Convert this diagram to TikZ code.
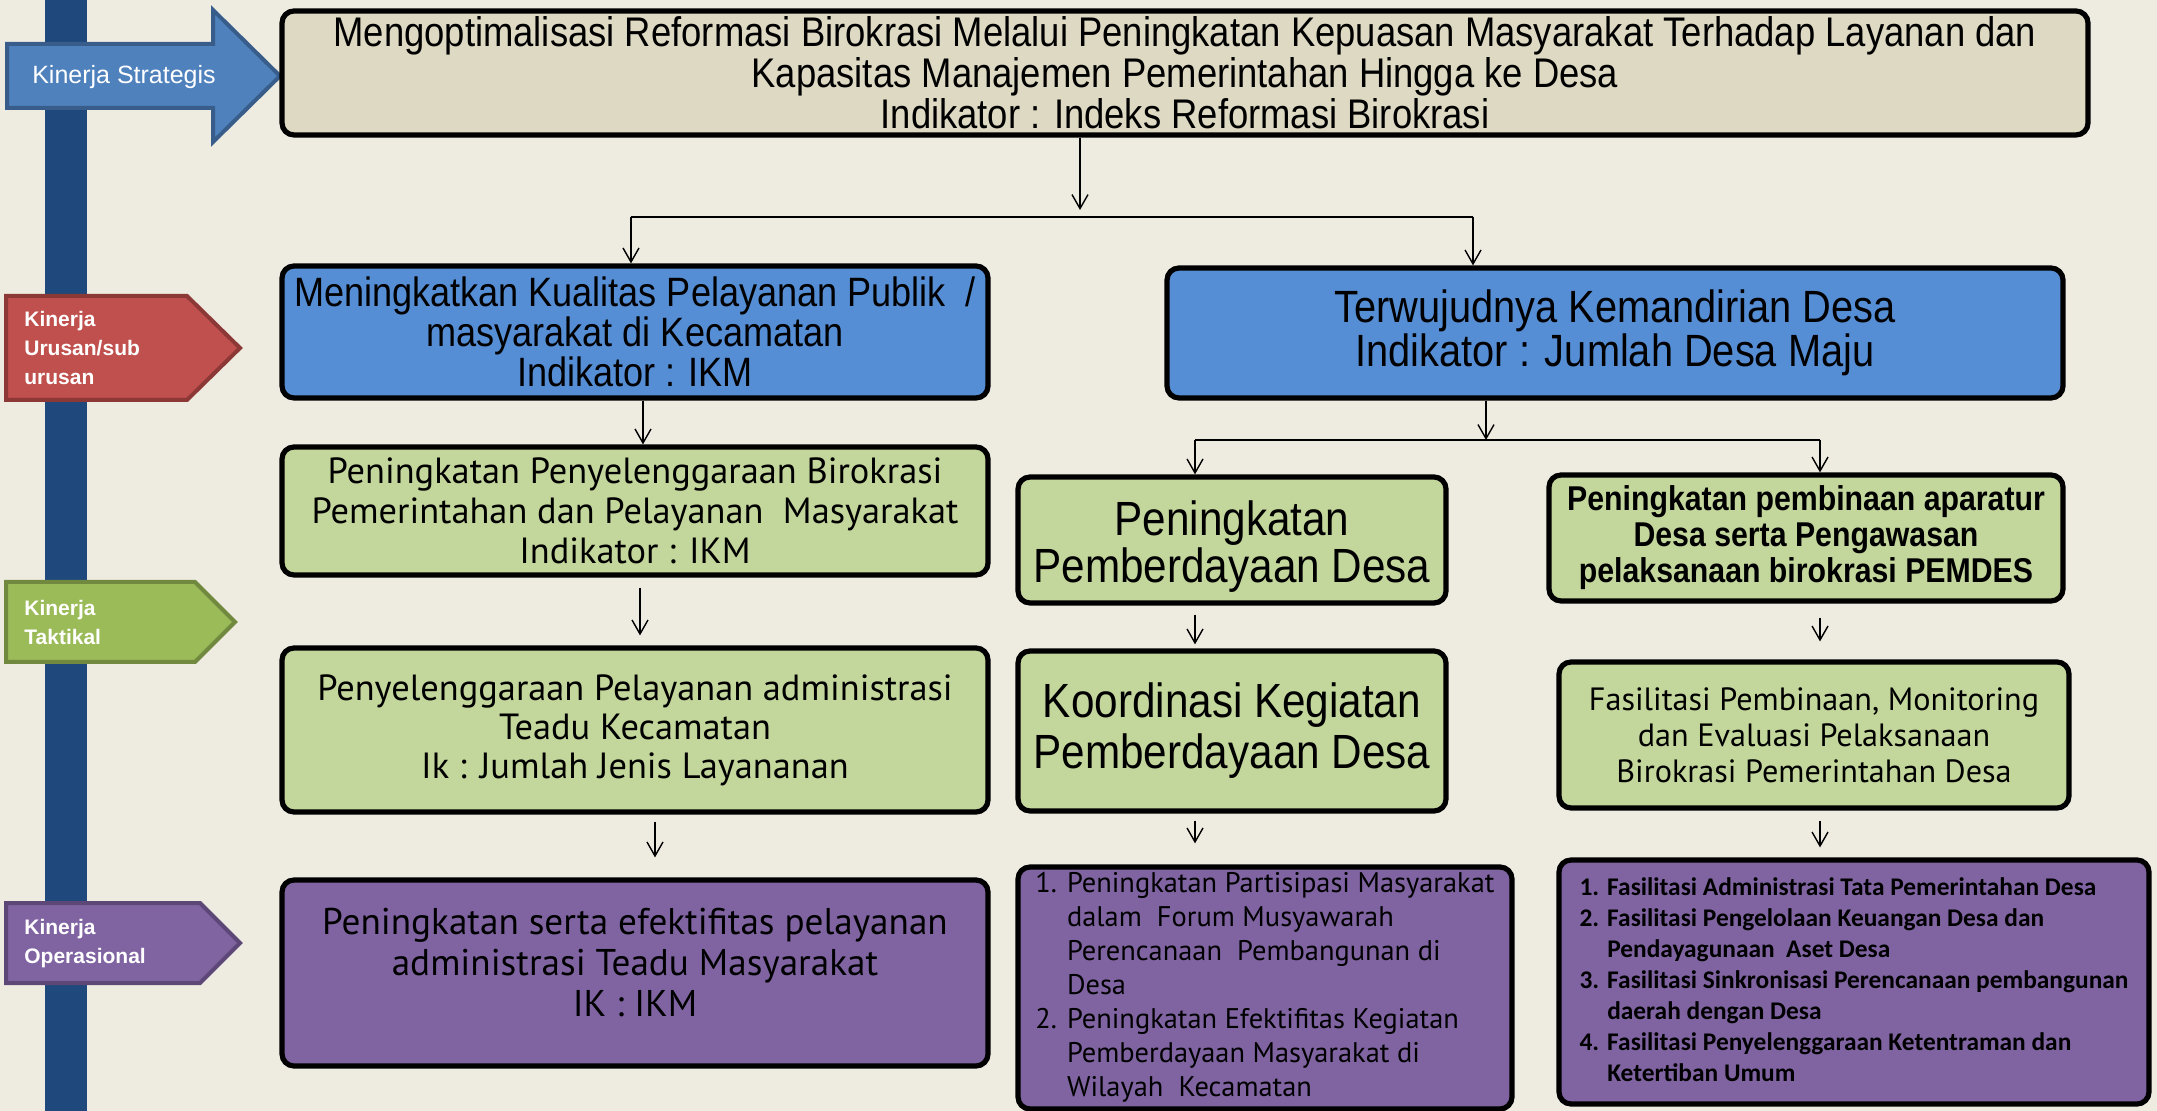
\documentclass[tikz,border=0pt]{standalone}
\usepackage{fontspec}
\setmainfont{Liberation Sans}
\newfontfamily\narrowfont[FakeStretch=0.88]{Liberation Sans}
\newfontfamily\bookfont{PT Sans}
\newfontfamily\calfont{Carlito}
\usetikzlibrary{arrows.meta}
\definecolor{slidebg}{HTML}{EEECE1}
\definecolor{barblue}{HTML}{1F497D}
\definecolor{boxtan}{HTML}{DDD9C3}
\definecolor{boxblue}{HTML}{558ED5}
\definecolor{boxgreen}{HTML}{C3D69B}
\definecolor{boxpurple}{HTML}{8064A2}
\definecolor{stratfill}{HTML}{4F81BD}
\definecolor{stratline}{HTML}{385D8A}
\definecolor{urusfill}{HTML}{C0504D}
\definecolor{urusline}{HTML}{8C3836}
\definecolor{taktfill}{HTML}{9BBB59}
\definecolor{taktline}{HTML}{71893F}
\definecolor{operfill}{HTML}{8064A2}
\definecolor{operline}{HTML}{5C4776}

\begin{document}
\begin{tikzpicture}[x=0.5pt,y=-0.5pt,
    >={Straight Barb[length=7pt,width=8pt]},
    conn/.style={line width=0.7pt},
    box/.style={draw,line width=2.6pt,rounded corners=6pt,align=center,inner sep=1pt},
    lbl/.style={text=white,align=left,anchor=west,inner sep=0pt,
        font=\bfseries\fontsize{10.5}{14.5}\selectfont}]
    \fill[slidebg] (0,0) rectangle (2157,1111);
    \useasboundingbox (0,0) rectangle (2157,1111);
    \fill[barblue] (45,0) rectangle (87,1111);

    % left level markers
    \filldraw[fill=stratfill,draw=stratline,line width=2pt] (7,44) -- (213,44) -- (213,10) -- (280,76) -- (213,142) -- (213,108) -- (7,108) -- cycle;
    \node[lbl,anchor=center,font=\fontsize{12.5}{15}\selectfont] (kstrat) at (124,77) {Kinerja Strategis};
    \filldraw[fill=urusfill,draw=urusline,line width=2pt] (6,296) -- (187,296) -- (240,348) -- (187,400) -- (6,400) -- cycle;
    \node[lbl] (kurus) at (24,348) {Kinerja\\Urusan/sub\\urusan};
    \filldraw[fill=taktfill,draw=taktline,line width=2pt] (6,582) -- (195,582) -- (235,622) -- (195,662) -- (6,662) -- cycle;
    \node[lbl] (ktakt) at (24,622) {Kinerja\\Taktikal};
    \filldraw[fill=operfill,draw=operline,line width=2pt] (6,903) -- (200,903) -- (240,943) -- (200,983) -- (6,983) -- cycle;
    \node[lbl] (koper) at (24,944) {Kinerja\\Operasional};

    % boxes
    \node[box,fill=boxtan,minimum width=903pt,minimum height=62pt,
        font=\narrowfont\fontsize{20.7}{20.5}\selectfont] (top) at (1185,73)
        {Mengoptimalisasi Reformasi Birokrasi Melalui Peningkatan Kepuasan Masyarakat Terhadap Layanan dan\\
         Kapasitas Manajemen Pemerintahan Hingga ke Desa\\ Indikator : Indeks Reformasi Birokrasi};
    \node[box,fill=boxblue,minimum width=353pt,minimum height=66pt,
        font=\narrowfont\fontsize{20.5}{20}\selectfont] (blueL) at (635,332)
        {Meningkatkan Kualitas Pelayanan Publik~~/\\ masyarakat di Kecamatan\\ Indikator : IKM};
    \node[box,fill=boxblue,minimum width=448pt,minimum height=65pt,
        font=\narrowfont\fontsize{22.6}{22}\selectfont] (blueR) at (1615,333)
        {Terwujudnya Kemandirian Desa\\ Indikator : Jumlah Desa Maju};
    \node[box,fill=boxgreen,minimum width=353pt,minimum height=64pt,
        font=\bookfont\fontsize{18.2}{20}\selectfont] (greenL1) at (635,511)
        {Peningkatan Penyelenggaraan Birokrasi\\ Pemerintahan dan Pelayanan~~Masyarakat\\ Indikator : IKM};
    \node[box,fill=boxgreen,minimum width=353pt,minimum height=82pt,
        font=\bookfont\fontsize{18.2}{19.5}\selectfont] (greenL2) at (635,730)
        {Penyelenggaraan Pelayanan administrasi\\ Teadu Kecamatan\\ Ik : Jumlah Jenis Layananan};
    \node[box,fill=boxpurple,minimum width=353pt,minimum height=93pt,text depth=11pt,
        font=\bookfont\fontsize{18.6}{20.5}\selectfont] (purpL) at (635,973)
        {Peningkatan serta efektifitas pelayanan\\ administrasi Teadu Masyarakat\\ IK : IKM};
    \node[box,fill=boxgreen,minimum width=214pt,minimum height=63pt,text height=47.5pt,
        font=\narrowfont\fontsize{24}{22}\selectfont] (greenM1) at (1232,540)
        {Peningkatan\\ Pemberdayaan Desa};
    \node[box,fill=boxgreen,minimum width=214pt,minimum height=80pt,
        font=\narrowfont\fontsize{24}{25.5}\selectfont] (greenM2) at (1232,731)
        {Koordinasi Kegiatan\\ Pemberdayaan Desa};
    \node[box,fill=boxpurple,minimum width=247pt,minimum height=117pt,
        font=\bookfont\fontsize{14.2}{17}\selectfont] (purpM) at (1265,988)
        {\begin{tabular}{@{}l@{\hspace{5pt}}l@{}}
         1. & Peningkatan Partisipasi Masyarakat\\
            & dalam~ Forum Musyawarah\\
            & Perencanaan~ Pembangunan di\\
            & Desa\\
         2. & Peningkatan Efektifitas Kegiatan\\
            & Pemberdayaan Masyarakat di\\
            & Wilayah~ Kecamatan
         \end{tabular}};
    \node[box,fill=boxgreen,minimum width=257pt,minimum height=63pt,
        font=\narrowfont\bfseries\fontsize{17.2}{18}\selectfont] (greenR1) at (1806,538)
        {Peningkatan pembinaan aparatur\\ Desa serta Pengawasan\\ pelaksanaan birokrasi PEMDES};
    \node[box,fill=boxgreen,minimum width=255pt,minimum height=73pt,
        font=\bookfont\fontsize{16.1}{18}\selectfont] (greenR2) at (1814,735)
        {Fasilitasi Pembinaan, Monitoring\\ dan Evaluasi Pelaksanaan\\ Birokrasi Pemerintahan Desa};
    \node[box,fill=boxpurple,minimum width=295pt,minimum height=122pt,
        font=\calfont\bfseries\fontsize{12.7}{15.5}\selectfont] (purpR) at (1854,982)
        {\begin{tabular}{@{}l@{\hspace{4pt}}l@{}}
         1. & Fasilitasi Administrasi Tata Pemerintahan Desa\\
         2. & Fasilitasi Pengelolaan Keuangan Desa dan\\
            & Pendayagunaan~ Aset Desa\\
         3. & Fasilitasi Sinkronisasi Perencanaan pembangunan\\
            & daerah dengan Desa\\
         4. & Fasilitasi Penyelenggaraan Ketentraman dan\\
            & Ketertiban Umum
         \end{tabular}};

    % connectors
    \coordinate (busM) at (1080,210);
    \coordinate (busL) at (631,217);
    \coordinate (busR) at (1473,217);
    \draw[->,conn] (top.south -| busM) -- (busM);
    \draw[conn] (busL) -- (busR);
    \draw[->,conn] (busL) -- (blueL.north -| busL);
    \draw[->,conn] (busR) -- (blueR.north -| busR);
    \draw[->,conn] ([xshift=4pt]blueL.south) -- ([xshift=4pt]greenL1.north);
    \draw[->,conn,shorten <=5pt,shorten >=5pt] ([xshift=2.5pt]greenL1.south) -- ([xshift=2.5pt]greenL2.north);
    \draw[->,conn,shorten <=3.5pt,shorten >=10pt] ([xshift=10pt]greenL2.south) -- ([xshift=10pt]purpL.north);

    \coordinate (busR2) at (1486,440);
    \coordinate (busML) at (1195,440);
    \coordinate (busMR) at (1820,440);
    \draw[->,conn] (blueR.south -| busR2) -- (busR2);
    \draw[conn,line width=1pt] (busML) -- (busMR);
    \draw[->,conn] (busML) -- (greenM1.north -| busML);
    \draw[->,conn] (busMR) -- (greenR1.north -| busMR);
    \draw[->,conn,shorten <=4.5pt,shorten >=2pt] (greenM1.south -| busML) -- (greenM2.north -| busML);
    \draw[->,conn,shorten <=3.5pt,shorten >=10.5pt] (greenM2.south -| busML) -- (purpM.north -| busML);
    \draw[->,conn,shorten <=7pt,shorten >=9pt] (greenR1.south -| busMR) -- (greenR2.north -| busMR);
    \draw[->,conn,shorten <=5pt,shorten >=5pt] (greenR2.south -| busMR) -- (purpR.north -| busMR);
\end{tikzpicture}
\end{document}
